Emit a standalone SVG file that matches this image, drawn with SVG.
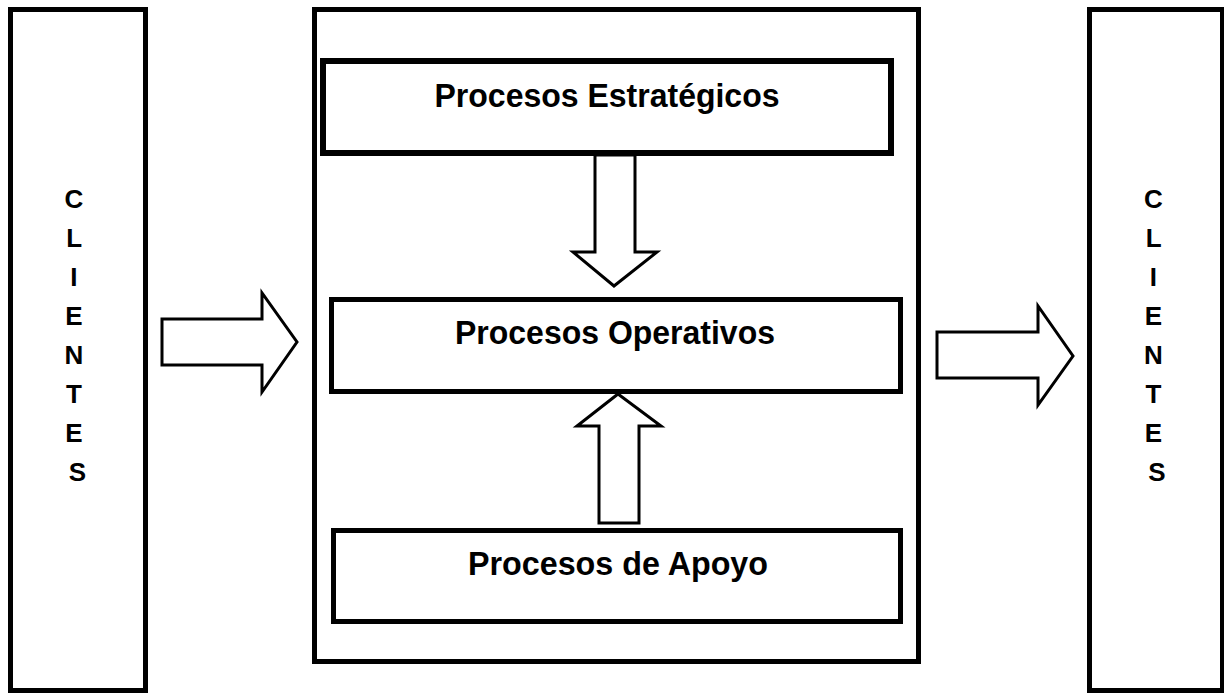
<svg xmlns="http://www.w3.org/2000/svg" width="1224" height="694" viewBox="0 0 1224 694">
  <style>
    .box { fill: #ffffff; stroke: #000000; stroke-width: 5; }
    .thick { stroke-width: 6; }
    .arrow { fill: #ffffff; stroke: #000000; stroke-width: 3; stroke-linejoin: miter; }
    .label { font-family: "Liberation Sans", Arial, sans-serif; font-weight: bold; font-size: 33px; fill: #000000; text-anchor: middle; }
    .vert { font-family: "Liberation Sans", Arial, sans-serif; font-weight: bold; font-size: 26px; fill: #000000; text-anchor: middle; }
  </style>
  <rect width="1224" height="694" fill="#ffffff"/>

  <!-- customers (input) -->
  <g id="clientes-entrada">
    <rect class="box" x="10.5" y="9.5" width="135" height="681"/>
    <text class="vert" x="77.5">
      <tspan x="77.5" y="208">C</tspan>
      <tspan x="77.5" y="247">L</tspan>
      <tspan x="77.5" y="286">I</tspan>
      <tspan x="77.5" y="325">E</tspan>
      <tspan x="77.5" y="364">N</tspan>
      <tspan x="77.5" y="403">T</tspan>
      <tspan x="77.5" y="442">E</tspan>
      <tspan x="77.5" y="481">S</tspan>
    </text>
  </g>

  <!-- process map frame -->
  <g id="mapa-procesos">
    <rect class="box" x="314.5" y="9.5" width="604" height="652"/>
  </g>

  <g id="procesos-estrategicos">
    <rect class="box thick" x="323" y="61" width="568" height="92"/>
    <text class="label" x="607" y="107" textLength="345" lengthAdjust="spacingAndGlyphs">Procesos Estratégicos</text>
  </g>

  <g id="procesos-operativos">
    <rect class="box" x="331.5" y="299.5" width="569" height="92"/>
    <text class="label" x="615" y="344" textLength="320" lengthAdjust="spacingAndGlyphs">Procesos Operativos</text>
  </g>

  <g id="procesos-apoyo">
    <rect class="box" x="333.5" y="530.5" width="567" height="91"/>
    <text class="label" x="618" y="575" textLength="300" lengthAdjust="spacingAndGlyphs">Procesos de Apoyo</text>
  </g>

  <!-- customers (output) -->
  <g id="clientes-salida">
    <rect class="box" x="1089.5" y="9.5" width="133" height="681"/>
    <text class="vert" x="1157">
      <tspan x="1157" y="208">C</tspan>
      <tspan x="1157" y="247">L</tspan>
      <tspan x="1157" y="286">I</tspan>
      <tspan x="1157" y="325">E</tspan>
      <tspan x="1157" y="364">N</tspan>
      <tspan x="1157" y="403">T</tspan>
      <tspan x="1157" y="442">E</tspan>
      <tspan x="1157" y="481">S</tspan>
    </text>
  </g>

  <!-- block arrows -->
  <g id="conectores">
    <polygon class="arrow" points="162,319 262,319 262,293 297,342 262,392 262,365 162,365"/>
    <polygon class="arrow" points="595,155 635,155 635,252 657,252 614,286 573,252 595,252"/>
    <polygon class="arrow" points="618,394 661,426 639,426 639,523 599,523 599,426 577,426"/>
    <polygon class="arrow" points="937,332 1038,332 1038,306 1073,356 1038,405 1038,378 937,378"/>
  </g>
</svg>
